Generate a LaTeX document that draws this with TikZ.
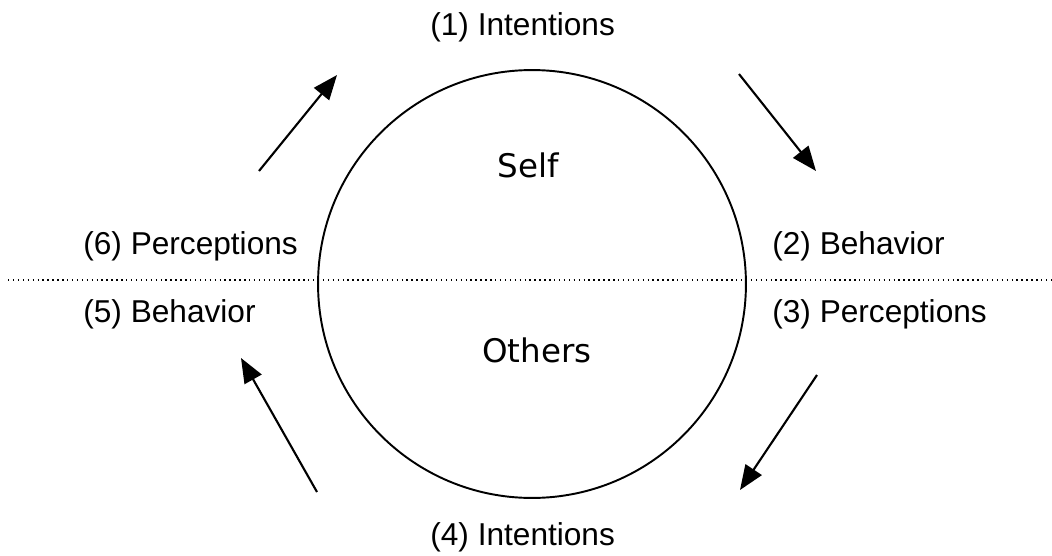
\documentclass[tikz,border=0pt]{standalone}
\usepackage{fontspec}
\setmainfont{Liberation Sans}
\newfontfamily\handfont{DejaVu Sans}
\usetikzlibrary{arrows.meta}

\tikzset{
  label/.style={font=\fontsize{18}{22}\selectfont, inner sep=0pt, anchor=base west},
  inner/.style={font=\handfont\fontsize{18.5}{22}\selectfont, inner sep=0pt, anchor=base},
  flow/.style={line width=1.2pt, -{Triangle[length=14pt, width=11pt]}}
}

\begin{document}
\begin{tikzpicture}[x=0.02cm, y=-0.02cm]
  \useasboundingbox (0, 0) rectangle (1052, 555);

  \node[draw, circle, line width=1.1pt, minimum size=8.56cm, inner sep=0pt] (circ) at (532, 284) {};
  \draw[dotted, line width=0.8pt] (8, 280) -- (1052, 280);

  \node[inner] (self) at (528, 177) {Self};
  \node[inner] (others) at (537, 362) {Others};

  \node[label] (l1) at (430, 35) {(1) Intentions};
  \node[label] (l2) at (772, 254) {(2) Behavior};
  \node[label] (l3) at (772, 322) {(3) Perceptions};
  \node[label] (l4) at (430, 545) {(4) Intentions};
  \node[label] (l5) at (83, 322) {(5) Behavior};
  \node[label] (l6) at (83, 254) {(6) Perceptions};

  \coordinate (a1) at (259, 171);
  \coordinate (b1) at (337, 75);
  \coordinate (a2) at (739, 74);
  \coordinate (b2) at (816, 171);
  \coordinate (a3) at (817, 375);
  \coordinate (b3) at (740, 490);
  \coordinate (a4) at (317, 492);
  \coordinate (b4) at (241, 358);

  \draw[flow] (a1) -- (b1);
  \draw[flow] (a2) -- (b2);
  \draw[flow] (a3) -- (b3);
  \draw[flow] (a4) -- (b4);
\end{tikzpicture}
\end{document}
